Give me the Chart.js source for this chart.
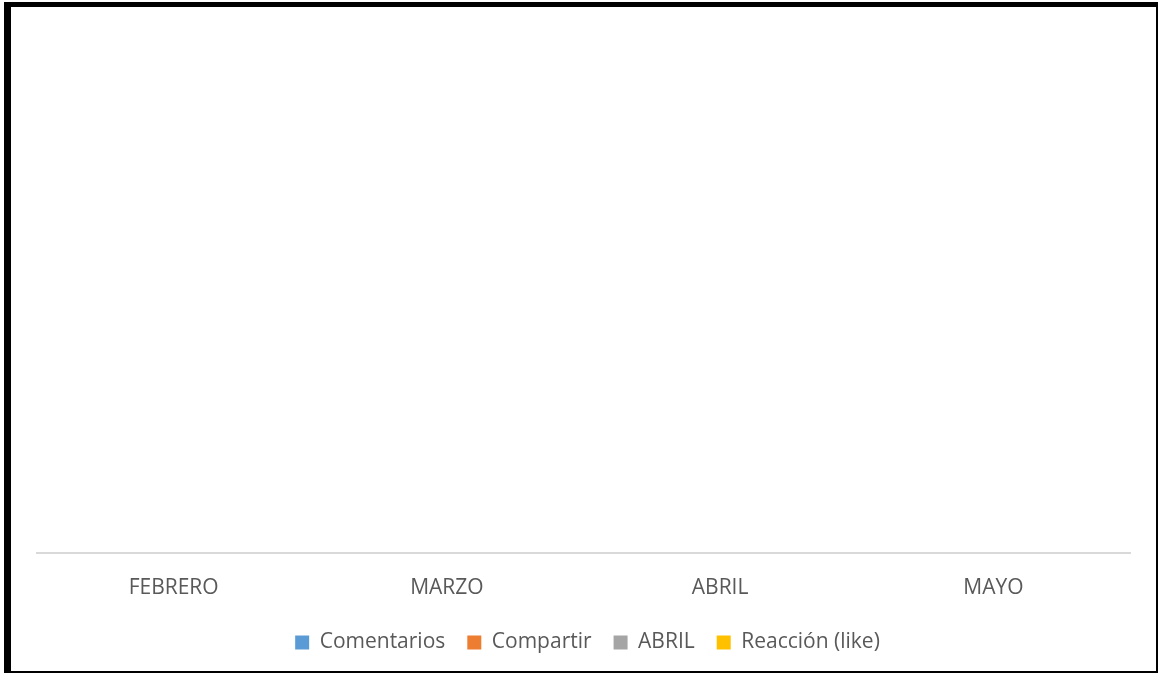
<!DOCTYPE html>
<html>
<head>
<meta charset="utf-8">
<script src="https://cdn.jsdelivr.net/npm/chart.js@4"></script>
<style>
  html, body { margin: 0; padding: 0; background: #fff; }
  #wrap { position: relative; width: 1158px; height: 676px; }
  #marco {
    position: absolute; left: 4px; top: 2px; width: 1145px; height: 664px;
    border-style: solid; border-color: #000;
    border-width: 5px 2px 2px 7px;
    pointer-events: none;
  }
  canvas { position: absolute; left: 0; top: 0; }
</style>
</head>
<body>
<div id="wrap">
  <div id="marco"></div>
  <canvas id="grafico" width="1158" height="676"></canvas>
</div>
<script>
const meses = ["FEBRERO", "MARZO", "ABRIL", "MAYO"];
const comentarios = [0, 0, 0, 0];
const compartir = [0, 0, 0, 0];
const abril = [0, 0, 0, 0];
const reaccion = [0, 0, 0, 0];

// leyenda mas compacta en vertical y algo desplazada, como en el original
const leyendaCompacta = {
  id: "leyendaCompacta",
  beforeInit(chart) {
    const leyenda = chart.legend;
    const fit = leyenda.fit;
    leyenda.fit = function () {
      fit.call(this);
      this.height -= 9;
    };
    const draw = leyenda.draw;
    leyenda.draw = function () {
      const c = this.ctx;
      c.save();
      c.translate(4, -14);
      draw.call(this);
      c.restore();
    };
  },
};

document.addEventListener("DOMContentLoaded", function () {
  var ctx = document.getElementById("grafico").getContext("2d");
  var grafico = new Chart(ctx, {
    type: "bar",
    data: {
      labels: meses,
      datasets: [
        { label: "Comentarios", data: comentarios, backgroundColor: "#5B9BD5" },
        { label: "Compartir", data: compartir, backgroundColor: "#ED7D31" },
        { label: "ABRIL", data: abril, backgroundColor: "#A5A5A5" },
        { label: "Reacción (like)", data: reaccion, backgroundColor: "#FFC000" },
      ],
    },
    plugins: [leyendaCompacta],
    options: {
      responsive: false,
      animation: false,
      layout: { padding: { left: 37, right: 28, top: 20, bottom: 8 } },
      plugins: {
        legend: {
          position: "bottom",
          labels: {
            boxWidth: 14,
            boxHeight: 14,
            padding: 22,
            color: "#595959",
            font: { family: "'Open Sans'", size: 21 },
          },
        },
        tooltip: { enabled: false },
      },
      scales: {
        x: {
          grid: { display: false, drawTicks: false },
          border: { display: true, color: "#d9d9d9", width: 2 },
          ticks: {
            padding: 23,
            color: "#595959",
            font: { family: "'Open Sans'", size: 21 },
          },
        },
        y: {
          display: false,
          beginAtZero: true,
          max: 1,
        },
      },
    },
  });
});
</script>
</body>
</html>
